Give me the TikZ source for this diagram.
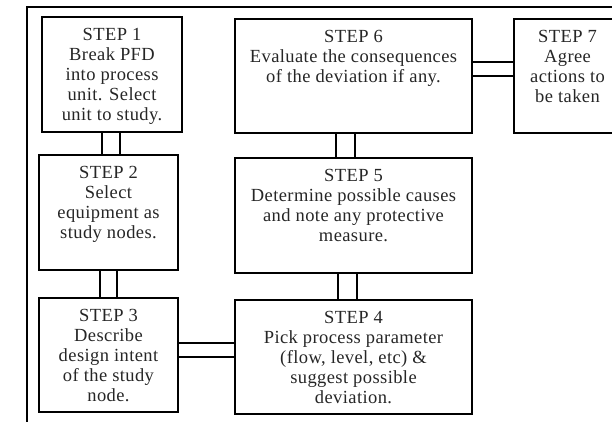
\documentclass[tikz,border=0pt]{standalone}
\usepackage{fontspec}
\setmainfont{Liberation Serif}[LetterSpace=2.2]
\begin{document}
\begin{tikzpicture}[x=1pt,y=-1pt,
  box/.style={draw, line width=1.1pt, rectangle, anchor=north west, inner sep=0pt, outer sep=0pt},
  txt/.style={anchor=north, inner sep=0pt, align=center, text=black!85,
    font=\fontsize{18.5}{20}\selectfont, yshift=-11.5pt},
  conn/.style={line width=1.1pt},
  frame/.style={line width=2pt}]
\useasboundingbox (0,0) rectangle (612,422);
\clip (0,0) rectangle (612,422);
% boxes
\node[box, minimum width=140pt, minimum height=115pt] (s1) at (42,17) {};
\node[box, minimum width=139pt, minimum height=115pt] (s2) at (39,155) {};
\node[box, minimum width=139pt, minimum height=114pt] (s3) at (39,298) {};
\node[box, minimum width=237pt, minimum height=114pt] (s4) at (235,300) {};
\node[box, minimum width=237pt, minimum height=115pt] (s5) at (235,158) {};
\node[box, minimum width=237pt, minimum height=114pt] (s6) at (235,19) {};
\node[box, minimum width=107pt, minimum height=114pt] (s7) at (514,19) {};
% texts
\node[txt] (t1) at (s1.north) {STEP 1\\Break PFD\\into process\\unit. Select\\unit to study.};
\node[txt] (t2) at (s2.north) {STEP 2\\Select\\equipment as\\study nodes.};
\node[txt] (t3) at (s3.north) {STEP 3\\Describe\\design intent\\of the study\\node.};
\node[txt] (t4) at (s4.north) {STEP 4\\Pick process parameter\\(flow, level, etc) \&\\suggest possible\\deviation.};
\node[txt] (t5) at (s5.north) {STEP 5\\Determine possible causes\\and note any protective\\measure.};
\node[txt] (t6) at (s6.north) {STEP 6\\Evaluate the consequences\\of the deviation if any.};
\node[txt] (t7) at (s7.north) {STEP 7\\Agree\\actions to\\be taken};
% connectors
\coordinate (a1) at (102,0);
\coordinate (a2) at (120,0);
\draw[conn] (s1.south -| a1) -- (s2.north -| a1);
\draw[conn] (s1.south -| a2) -- (s2.north -| a2);
\coordinate (b1) at (100,0);
\coordinate (b2) at (117,0);
\draw[conn] (s2.south -| b1) -- (s3.north -| b1);
\draw[conn] (s2.south -| b2) -- (s3.north -| b2);
\coordinate (c1) at (0,343);
\coordinate (c2) at (0,357);
\draw[conn] (s3.east |- c1) -- (s4.west |- c1);
\draw[conn] (s3.east |- c2) -- (s4.west |- c2);
\coordinate (d1) at (338,0);
\coordinate (d2) at (357,0);
\draw[conn] (s4.north -| d1) -- (s5.south -| d1);
\draw[conn] (s4.north -| d2) -- (s5.south -| d2);
\coordinate (e1) at (336,0);
\coordinate (e2) at (355,0);
\draw[conn] (s5.north -| e1) -- (s6.south -| e1);
\draw[conn] (s5.north -| e2) -- (s6.south -| e2);
\coordinate (f1) at (0,62);
\coordinate (f2) at (0,76);
\draw[conn] (s6.east |- f1) -- (s7.west |- f1);
\draw[conn] (s6.east |- f2) -- (s7.west |- f2);
% outer frame
\coordinate (fa) at (26.5,430);
\coordinate (fb) at (26.5,7.5);
\coordinate (fc) at (620,7.5);
\draw[frame] (fa) -- (fb) -- (fc);
\end{tikzpicture}
\end{document}
